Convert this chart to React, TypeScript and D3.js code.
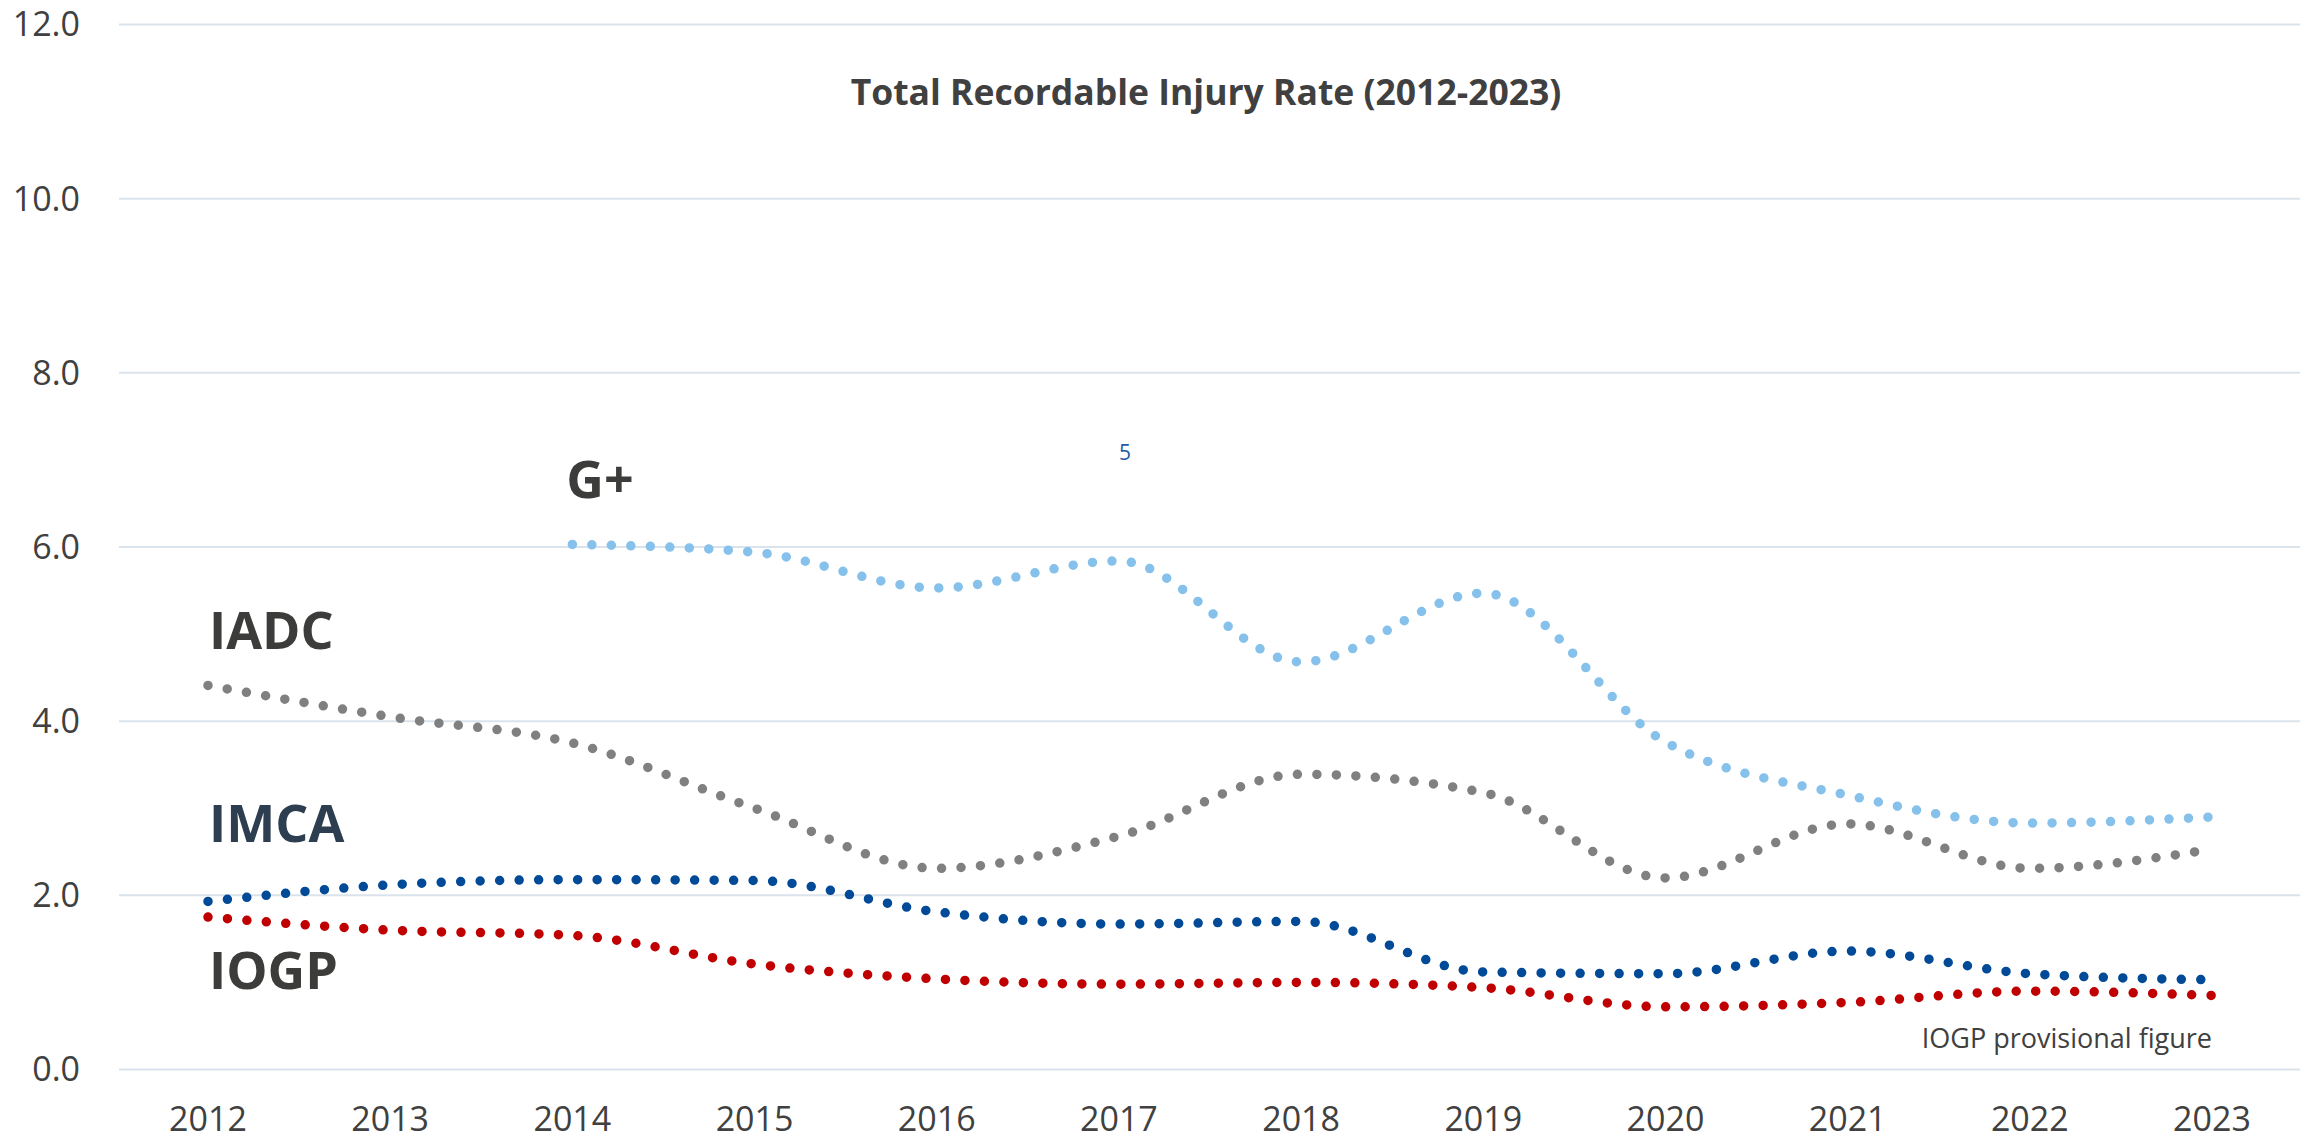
import React, { useRef, useEffect } from 'react';
import * as d3 from 'd3';

const years = ['2012', '2013', '2014', '2015', '2016', '2017', '2018', '2019', '2020', '2021', '2022', '2023'];
const gPlus: (number | null)[] = [null, null, 6.03, 5.94, 5.53, 5.84, 4.68, 5.47, 3.76, 3.15, 2.83, 2.9];
const iadc = [4.41, 4.05, 3.75, 3.0, 2.31, 2.68, 3.39, 3.18, 2.2, 2.82, 2.31, 2.53];
const imca = [1.93, 2.12, 2.18, 2.17, 1.81, 1.67, 1.7, 1.12, 1.1, 1.36, 1.1, 1.03];
const iogp = [1.75, 1.6, 1.54, 1.21, 1.04, 0.98, 1.0, 0.94, 0.72, 0.77, 0.9, 0.85];
const yTicks = [0, 2, 4, 6, 8, 10, 12];

const WIDTH = 2300;
const HEIGHT = 1142;
const FONT = '"Open Sans", "Noto Sans", sans-serif';

const series = [
  { name: 'G+', values: gPlus, color: '#85c1eb', labelColor: '#3c3c3b', labelYear: '2014', labelValue: 6.56, dx: -6 },
  { name: 'IADC', values: iadc, color: '#808080', labelColor: '#3c3c3b', labelYear: '2012', labelValue: 4.83, dx: 1 },
  { name: 'IMCA', values: imca, color: '#004a97', labelColor: '#2c3e50', labelYear: '2012', labelValue: 2.61, dx: 1 },
  { name: 'IOGP', values: iogp, color: '#c00000', labelColor: '#3c3c3b', labelYear: '2012', labelValue: 0.92, dx: 1 },
];

const App = () => {
  const svgRef = useRef<SVGSVGElement>(null);

  useEffect(() => {
    if (!svgRef.current) return;
    const svg = d3.select(svgRef.current);
    svg.selectAll('*').remove();

    const x = d3.scalePoint<string>().domain(years).range([208, 2212]);
    const y = d3.scaleLinear().domain([0, 12]).range([1069.5, 24.5]);

    // gridlines
    svg.append('g')
      .selectAll('line')
      .data(yTicks)
      .join('line')
      .attr('x1', 119)
      .attr('x2', WIDTH)
      .attr('y1', d => y(d))
      .attr('y2', d => y(d))
      .attr('stroke', '#dae3eb')
      .attr('stroke-width', 2);

    // y labels
    svg.append('g')
      .selectAll('text')
      .data(yTicks)
      .join('text')
      .attr('x', 80)
      .attr('y', d => y(d))
      .attr('dy', '0.35em')
      .attr('text-anchor', 'end')
      .attr('font-family', FONT)
      .attr('font-size', 34)
      .attr('fill', '#404040')
      .text(d => d.toFixed(1));

    // x labels
    svg.append('g')
      .selectAll('text')
      .data(years)
      .join('text')
      .attr('x', d => x(d)!)
      .attr('y', 1131)
      .attr('text-anchor', 'middle')
      .attr('font-family', FONT)
      .attr('font-size', 34)
      .attr('fill', '#404040')
      .text(d => d);

    // title
    svg.append('text')
      .attr('x', 1206)
      .attr('y', 105)
      .attr('text-anchor', 'middle')
      .attr('font-family', FONT)
      .attr('font-weight', 'bold')
      .attr('font-size', 35.5)
      .attr('fill', '#404040')
      .text('Total Recordable Injury Rate (2012-2023)');

    const line = d3.line<[string, number | null]>()
      .x(d => x(d[0])!)
      .y(d => y(d[1] as number))
      .curve(d3.curveMonotoneX);

    series.forEach(s => {
      const pts = years.map((yr, i) => [yr, s.values[i]] as [string, number | null])
        .filter(d => d[1] != null);
      svg.append('path')
        .datum(pts)
        .attr('fill', 'none')
        .attr('stroke', s.color)
        .attr('stroke-width', 9.5)
        .attr('stroke-linecap', 'round')
        .attr('stroke-dasharray', '0 19.5')
        .attr('d', line);

      svg.append('text')
        .attr('x', x(s.labelYear)! + s.dx)
        .attr('y', y(s.labelValue))
        .attr('font-family', FONT)
        .attr('font-weight', 'bold')
        .attr('font-size', 52)
        .attr('fill', s.labelColor)
        .text(s.name);
    });

    // stray footnote marker
    svg.append('text')
      .attr('x', x('2017')! + 6)
      .attr('y', y(7.0))
      .attr('text-anchor', 'middle')
      .attr('font-family', FONT)
      .attr('font-size', 21)
      .attr('fill', '#1f5aa6')
      .text('5');

    svg.append('text')
      .attr('x', x('2023')!)
      .attr('y', y(0.25))
      .attr('text-anchor', 'end')
      .attr('font-family', FONT)
      .attr('font-size', 27)
      .attr('fill', '#404040')
      .text('IOGP provisional figure');
  }, []);

  return (
    <svg
      ref={svgRef}
      width={WIDTH}
      height={HEIGHT}
      style={{ position: 'absolute', left: 0, top: 0, background: '#fff' }}
    />
  );
};

export default App;
